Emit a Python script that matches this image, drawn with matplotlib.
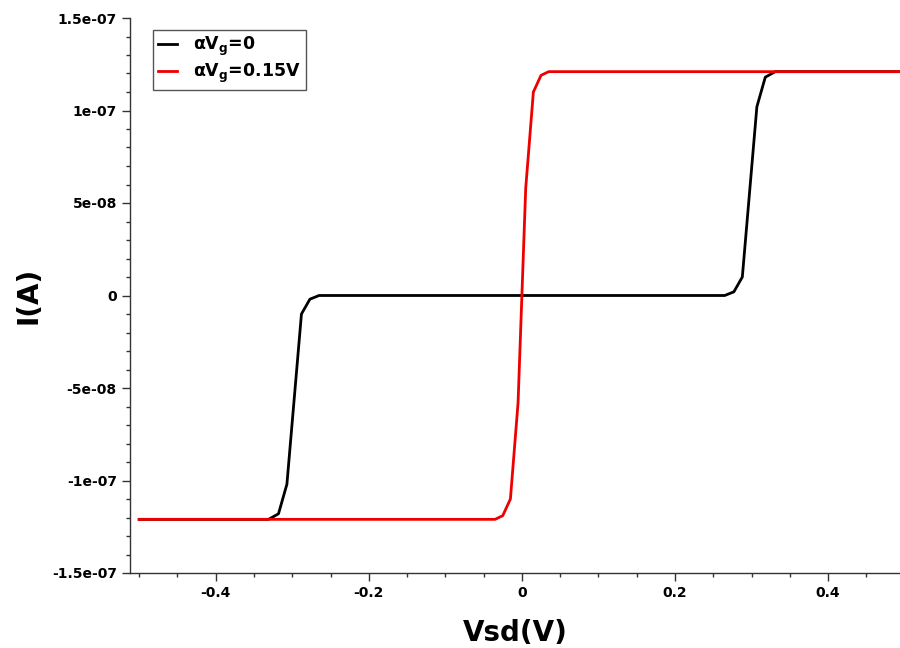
import numpy as np
import matplotlib
matplotlib.use("Agg")
import matplotlib.pyplot as plt
from matplotlib.ticker import MultipleLocator, FormatStrFormatter

# (current in units of 1e-7 A)
vsd_black = [-0.5, -0.331, -0.318, -0.307, -0.2975, -0.288, -0.277, -0.265,
             0.265, 0.277, 0.288, 0.2975, 0.307, 0.318, 0.331, 0.5]
i_black = [-1.21, -1.21, -1.18, -1.02, -0.56, -0.10, -0.02, 0.0,
           0.0, 0.02, 0.10, 0.56, 1.02, 1.18, 1.21, 1.21]

vsd_red = [-0.5, -0.035, -0.025, -0.015, -0.005, 0.005, 0.015, 0.025, 0.035, 0.5]
i_red = [-1.21, -1.21, -1.19, -1.10, -0.58, 0.58, 1.10, 1.19, 1.21, 1.21]

labels = ["\u03b1V$_\\mathregular{g}$=0", "\u03b1V$_\\mathregular{g}$=0.15V"]
colors = ["black", "#ee0000"]

plt.rcParams["font.family"] = ["DejaVu Sans"]
plt.rcParams["font.weight"] = "bold"

fig = plt.figure(figsize=(9, 6.48), dpi=100)
ax = fig.add_axes([130/900, 75/648, 770/900, 555/648])

ax.plot(vsd_black, np.array(i_black)*1e-7, color=colors[0], lw=2.0, label=labels[0])
ax.plot(vsd_red, np.array(i_red)*1e-7, color=colors[1], lw=2.0, label=labels[1])

ax.set_xlim(-0.512, 0.494)
ax.set_ylim(-1.5e-7, 1.5e-7)

ax.spines["top"].set_visible(False)
ax.spines["right"].set_visible(False)
for s in ("left", "bottom"):
    ax.spines[s].set_color("#333333")
    ax.spines[s].set_linewidth(1.0)

ax.xaxis.set_major_locator(MultipleLocator(0.2))
ax.xaxis.set_minor_locator(MultipleLocator(0.05))
ax.yaxis.set_major_locator(MultipleLocator(5e-8))
ax.yaxis.set_minor_locator(MultipleLocator(1e-8))
ax.xaxis.set_major_formatter(FormatStrFormatter("%g"))
ax.yaxis.set_major_formatter(FormatStrFormatter("%g"))
ax.tick_params(which="major", length=6, width=1, color="#333333", labelsize=10)
ax.tick_params(which="minor", length=3, width=1, color="#333333")
for t in ax.get_xticklabels() + ax.get_yticklabels():
    t.set_fontweight("bold")

ax.set_xlabel("Vsd(V)", fontsize=20, fontweight="bold")
ax.set_ylabel("I(A)", fontsize=20, fontweight="bold")
ax.xaxis.set_label_coords(0.5, -0.082)
ax.yaxis.set_label_coords(-0.113, 0.5)

leg = ax.legend(loc="upper left", bbox_to_anchor=(0.030, 0.979), borderaxespad=0,
                fontsize=12.5, handlelength=1.1, handletextpad=0.9, borderpad=0.3,
                labelspacing=0.2, fancybox=False, framealpha=1)
leg.get_frame().set_edgecolor("#555555")
leg.get_frame().set_linewidth(1.0)
for t in leg.get_texts():
    t.set_fontweight("bold")

fig.savefig("out.png", dpi=100)
